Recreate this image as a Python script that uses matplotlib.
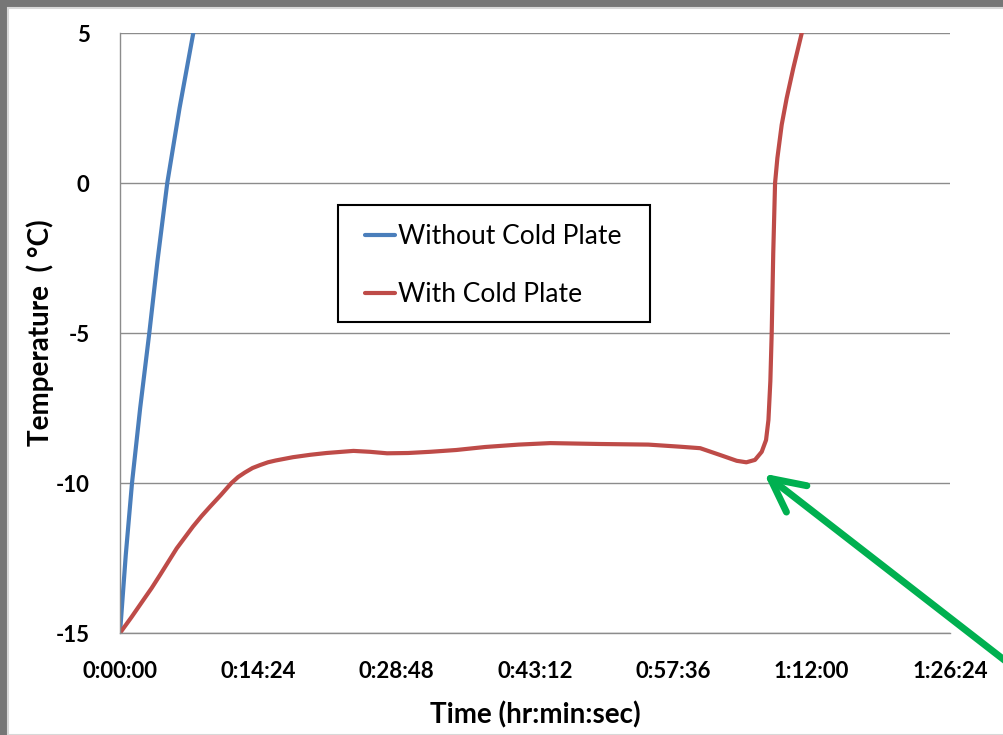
import matplotlib
matplotlib.use('Agg')
import matplotlib.pyplot as plt
from matplotlib.patches import Rectangle

plt.rcParams['axes.unicode_minus'] = False

# time in minutes, temperature in deg C
no_plate_time = [0.0, 0.6, 1.25, 2.1, 3.05, 3.9, 4.92, 6.2, 7.63, 8.6]
no_plate_temp = [-15.0, -12.4, -10.0, -7.5, -5.0, -2.6, 0.0, 2.5, 5.0, 6.8]

plate_time = [0.0, 1.2, 2.43, 3.3, 4.2, 5.9, 7.6, 8.5, 9.37, 10.5, 11.6, 12.3, 13.0,
              13.8, 14.6, 15.4, 16.2, 18.0, 19.8, 21.5, 24.3, 26.0, 27.8, 30.0,
              32.3, 35.0, 38.0, 41.5, 44.8, 50.0, 55.0, 58.3, 60.4, 62.5, 64.2,
              65.2, 66.1, 66.8, 67.25, 67.5, 67.7, 67.84, 68.0, 68.19,
              68.43, 68.88, 69.4, 70.09, 70.97, 71.5]
plate_temp = [-15.0, -14.47, -13.9, -13.5, -13.05, -12.18, -11.45, -11.1, -10.79,
              -10.4, -10.0, -9.8, -9.65, -9.5, -9.4, -9.31, -9.25, -9.14, -9.06,
              -9.0, -8.93, -8.96, -9.01, -9.0, -8.96, -8.9, -8.8, -8.72, -8.67,
              -8.7, -8.72, -8.79, -8.84, -9.07, -9.26, -9.31, -9.23, -8.96, -8.57,
              -7.9, -6.6, -5.0, -2.34, 0.0, 0.83, 1.94, 2.83, 3.83, 5.0, 5.7]

x_ticks = [0, 14.4, 28.8, 43.2, 57.6, 72.0, 86.4]
x_labels = ['0:00:00', '0:14:24', '0:28:48', '0:43:12', '0:57:36', '1:12:00', '1:26:24']
y_ticks = [-15, -10, -5, 0, 5]

W, H = 1004, 735
fig = plt.figure(figsize=(W / 100, H / 100), dpi=100, facecolor='#767676')
bg = Rectangle((8 / W, 0), 1, 1 - 8 / H, transform=fig.transFigure,
               facecolor='white', edgecolor='#d8d8d8', lw=1.5, zorder=-10)
fig.add_artist(bg)

ax = fig.add_axes([120 / W, 1 - 633 / H, 830 / W, 600 / H])
ax.set_zorder(1)
ax.set_facecolor('white')

ax.plot(no_plate_time, no_plate_temp, color='#4a7ebb', lw=3, label='Without Cold Plate',
        solid_capstyle='round')
ax.plot(plate_time, plate_temp, color='#be4b48', lw=3, label='With Cold Plate',
        solid_capstyle='round', solid_joinstyle='round')

ax.set_xlim(0, 86.4)
ax.set_ylim(-15, 5)
ax.set_xticks(x_ticks)
ax.set_xticklabels(x_labels)
ax.set_yticks(y_ticks)
ax.tick_params(axis='x', length=0, labelsize=16, pad=20)
ax.tick_params(axis='y', length=0, labelsize=16, pad=22)
for lab in ax.get_xticklabels() + ax.get_yticklabels():
    lab.set_fontweight('bold')
    lab.set_fontfamily('Lato')
ax.grid(axis='y', color='#8c8c8c', lw=1)
ax.set_axisbelow(True)
for s in ['top', 'right']:
    ax.spines[s].set_visible(False)
for s in ['left', 'bottom']:
    ax.spines[s].set_color('#8c8c8c')
    ax.spines[s].set_linewidth(1)

ax.set_xlabel('Time (hr:min:sec)', fontsize=20, fontweight='bold', family='Lato')
ax.xaxis.set_label_coords(0.5, -(715 - 633) / 600)
ax.set_ylabel('Temperature  ( °C)', fontsize=20, fontweight='bold', family='Lato')
ax.yaxis.set_label_coords(-(120 - 40) / 830, 0.5)
ax.xaxis.label.set_va('center')
ax.yaxis.label.set_va('center')

# legend box drawn separately so its padding can match the original
leg_box = Rectangle((338 / W, 1 - 322 / H), 312 / W, 117 / H, transform=fig.transFigure,
                    facecolor='white', edgecolor='black', lw=1.5, zorder=4)
ax.add_artist(leg_box)
leg = ax.legend(loc='upper left', bbox_to_anchor=(365 / W, 1 - 224 / H),
                bbox_transform=fig.transFigure,
                prop={'family': 'Lato', 'size': 19}, frameon=False,
                handlelength=1.14, handletextpad=0.12, labelspacing=1.26,
                borderpad=0, borderaxespad=0)
leg.set_zorder(5)

ax.annotate('', xy=(762, H - 472), xycoords='figure pixels',
            xytext=(1012, H - 666), textcoords='figure pixels',
            arrowprops=dict(arrowstyle='->,head_length=2.4,head_width=1.2',
                            color='#00b050', lw=5, capstyle='round', joinstyle='round'),
            annotation_clip=False)

fig.savefig('out.png', dpi=100, facecolor=fig.get_facecolor())
